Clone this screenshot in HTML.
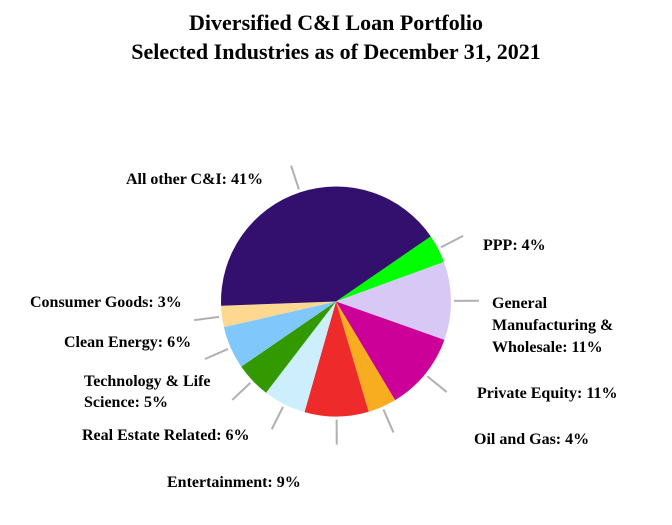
<!DOCTYPE html>
<html><head><meta charset="utf-8"><style>
body{margin:0;background:#fff;}
svg text{font-family:"Liberation Serif",serif;font-weight:bold;fill:#000;}
</style></head><body>
<svg width="672" height="520">
<text x="336" y="30" font-size="22" text-anchor="middle">Diversified C&amp;I Loan Portfolio</text>
<text x="336" y="59" font-size="22" text-anchor="middle">Selected Industries as of December 31, 2021</text>
<g id="slices"></g>
<g id="lines"></g>
<g font-size="16">
<text x="263" y="184" text-anchor="end">All other C&amp;I: 41%</text>
<text x="483" y="250">PPP: 4%</text>
<text x="492" y="308"><tspan x="492">General</tspan><tspan x="492" dy="22">Manufacturing &amp;</tspan><tspan x="492" dy="22">Wholesale: 11%</tspan></text>
<text x="477" y="398">Private Equity: 11%</text>
<text x="474" y="444">Oil and Gas: 4%</text>
<text x="167" y="487">Entertainment: 9%</text>
<text x="82" y="440">Real Estate Related: 6%</text>
<text x="84" y="386"><tspan x="84">Technology &amp; Life</tspan><tspan x="84" dy="21">Science: 5%</tspan></text>
<text x="64" y="347">Clean Energy: 6%</text>
<text x="30" y="307">Consumer Goods: 3%</text>
</g>
</svg>
<script>
const categories=["PPP","General Manufacturing & Wholesale","Private Equity","Oil and Gas","Entertainment","Real Estate Related","Technology & Life Science","Clean Energy","Consumer Goods","All other C&I"];
const values=[4,11,11,4,9,6,5,6,3,41];
const colors=["#00ff00","#d8c8f6","#cc0099","#f8ac20","#ee2a2a","#cdeefc","#339900","#80c8fc","#fed890","#33106e"];
const cx=336,cy=301.5,r=115,start=-34.5;
const ns="http://www.w3.org/2000/svg";
const gs=document.getElementById('slices'),gl=document.getElementById('lines');
const total=values.reduce((a,b)=>a+b,0);
let a=start;
function pt(ang,rad){const t=ang*Math.PI/180;return [cx+rad*Math.cos(t),cy+rad*Math.sin(t)];}
values.forEach((v,i)=>{
  const sweep=v/total*360,a2=a+sweep;
  const p1=pt(a,r),p2=pt(a2,r);
  const p=document.createElementNS(ns,'path');
  p.setAttribute('d',`M${cx},${cy}L${p1[0]},${p1[1]}A${r},${r} 0 ${sweep>180?1:0} 1 ${p2[0]},${p2[1]}Z`);
  p.setAttribute('fill',colors[i]);
  
  
  gs.appendChild(p);
  const m=a+sweep/2,q1=pt(m,r+3),q2=pt(m,r+28);
  const l=document.createElementNS(ns,'line');
  l.setAttribute('x1',q1[0]);l.setAttribute('y1',q1[1]);l.setAttribute('x2',q2[0]);l.setAttribute('y2',q2[1]);
  l.setAttribute('stroke','#b0b0b0');l.setAttribute('stroke-width','2');
  
  
  gl.appendChild(l);
  a=a2;
});
</script>
</body></html>
